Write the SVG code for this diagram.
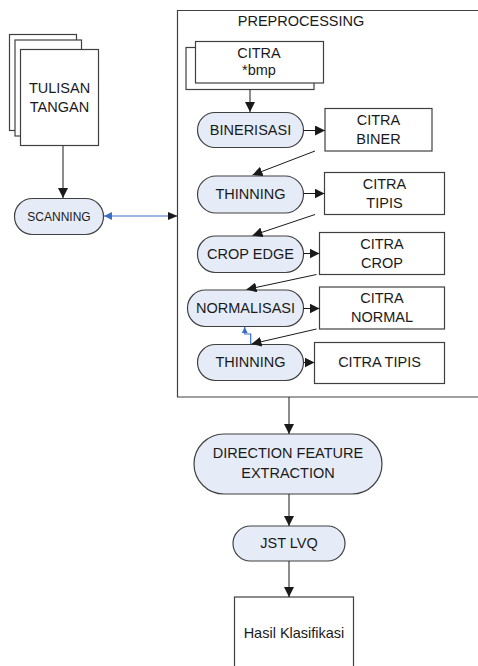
<svg xmlns="http://www.w3.org/2000/svg" width="478" height="666" viewBox="0 0 478 666">
<defs>
<style>
.bx{fill:#fff;stroke:#404040;stroke-width:1.2}
.pl{fill:#e6ecf7;stroke:#404040;stroke-width:1.2}
.t{font-family:"Liberation Sans",Arial,sans-serif;font-size:14.5px;fill:#1a1a1a;text-anchor:middle}
.ln{stroke:#1a1a1a;stroke-width:1;fill:none}
.bl{stroke:#3a6fc4;stroke-width:1.2;fill:none}
</style>
<marker id="ah" viewBox="0 0 10 10" refX="10" refY="5" markerWidth="10" markerHeight="10" markerUnits="userSpaceOnUse" orient="auto"><path d="M0,0 L10,5 L0,10 z" fill="#1a1a1a"/></marker>
<marker id="ahb" viewBox="0 0 10 10" refX="10" refY="5" markerWidth="8" markerHeight="8" markerUnits="userSpaceOnUse" orient="auto"><path d="M0,0 L10,5 L0,10 z" fill="#3a6fc4"/></marker>
<marker id="ahbs" viewBox="0 0 10 10" refX="10" refY="5" markerWidth="6" markerHeight="6" markerUnits="userSpaceOnUse" orient="auto"><path d="M0,0 L10,5 L0,10 z" fill="#3a6fc4"/></marker>
</defs>
<rect width="478" height="666" fill="#fff"/>

<g id="preprocessing">
<path class="bx" d="M600,10.5 H177.5 V397 H600" />
<text class="t" x="301" y="26">PREPROCESSING</text>
</g>

<g id="tulisan-tangan">
<rect class="bx" x="9.5" y="34.5" width="67" height="96"/>
<rect class="bx" x="15" y="40" width="66.5" height="96"/>
<rect class="bx" x="20.5" y="49.5" width="78" height="96"/>
<text class="t" x="59.5" y="93">TULISAN</text>
<text class="t" x="59.5" y="112">TANGAN</text>
</g>

<g id="scanning">
<rect class="pl" x="14.5" y="198.5" width="89" height="36" rx="18"/>
<text class="t" x="59" y="221" style="font-size:12px">SCANNING</text>
</g>

<g id="citra-bmp">
<rect class="bx" x="186" y="47.5" width="128" height="42"/>
<rect class="bx" x="195.5" y="41.5" width="128" height="41.5"/>
<text class="t" x="259" y="58">CITRA</text>
<text class="t" x="259" y="75">*bmp</text>
</g>

<g id="binerisasi">
<rect class="pl" x="197.5" y="112.5" width="106" height="35" rx="17.5"/>
<text class="t" x="250.5" y="135">BINERISASI</text>
</g>
<g id="citra-biner">
<rect class="bx" x="325" y="108.5" width="107" height="42.5"/>
<text class="t" x="378.5" y="125">CITRA</text>
<text class="t" x="378.5" y="144">BINER</text>
</g>

<g id="thinning1">
<rect class="pl" x="197.5" y="176" width="106" height="37" rx="18.5"/>
<text class="t" x="250.5" y="199">THINNING</text>
</g>
<g id="citra-tipis1">
<rect class="bx" x="324.5" y="172.5" width="120" height="42"/>
<text class="t" x="384.5" y="189">CITRA</text>
<text class="t" x="384.5" y="208">TIPIS</text>
</g>

<g id="crop-edge">
<rect class="pl" x="197.5" y="236" width="106" height="36.5" rx="18"/>
<text class="t" x="250.5" y="259">CROP EDGE</text>
</g>
<g id="citra-crop">
<rect class="bx" x="319.5" y="232.5" width="125" height="42"/>
<text class="t" x="382" y="249">CITRA</text>
<text class="t" x="382" y="268">CROP</text>
</g>

<g id="normalisasi">
<rect class="pl" x="187.5" y="290" width="116" height="36.5" rx="18"/>
<text class="t" x="245.5" y="313">NORMALISASI</text>
</g>
<g id="citra-normal">
<rect class="bx" x="319.5" y="287" width="125" height="42"/>
<text class="t" x="382" y="303">CITRA</text>
<text class="t" x="382" y="322">NORMAL</text>
</g>

<g id="thinning2">
<rect class="pl" x="197.5" y="344.5" width="106" height="36" rx="18"/>
<text class="t" x="250.5" y="367">THINNING</text>
</g>
<g id="citra-tipis2">
<rect class="bx" x="314.5" y="342.5" width="130" height="41"/>
<text class="t" x="379.5" y="367">CITRA TIPIS</text>
</g>

<g id="direction-feature">
<rect class="pl" x="194" y="434" width="188" height="60" rx="30"/>
<text class="t" x="288" y="458">DIRECTION FEATURE</text>
<text class="t" x="288" y="478">EXTRACTION</text>
</g>

<g id="jst-lvq">
<rect class="pl" x="233" y="526" width="112" height="35" rx="17.5"/>
<text class="t" x="289" y="548">JST LVQ</text>
</g>

<g id="hasil">
<rect class="bx" x="234.5" y="597" width="119" height="90"/>
<text class="t" x="294" y="638">Hasil Klasifikasi</text>
</g>

<g id="connectors">
<line class="ln" x1="63" y1="146" x2="63" y2="198" marker-end="url(#ah)"/>
<line class="bl" x1="177" y1="216" x2="104" y2="216" marker-end="url(#ahb)"/>
<path d="M168,212 L177.5,216 L168,220 z" fill="#1a1a1a"/>
<line class="ln" x1="250" y1="89.5" x2="250" y2="112" marker-end="url(#ah)"/>
<line class="ln" x1="303.5" y1="130.5" x2="325" y2="130.5" marker-end="url(#ah)"/>
<line class="ln" x1="315" y1="151" x2="252.5" y2="175" marker-end="url(#ah)"/>
<line class="ln" x1="303.5" y1="193.5" x2="324.5" y2="193.5" marker-end="url(#ah)"/>
<line class="ln" x1="315" y1="214.5" x2="252.5" y2="235.5" marker-end="url(#ah)"/>
<line class="ln" x1="303.5" y1="253.5" x2="319.5" y2="253.5" marker-end="url(#ah)"/>
<line class="ln" x1="316.5" y1="274.5" x2="246.5" y2="289.5" marker-end="url(#ah)"/>
<line class="ln" x1="303.5" y1="308.5" x2="319.5" y2="308.5" marker-end="url(#ah)"/>
<line class="ln" x1="316.5" y1="329" x2="251.5" y2="344" marker-end="url(#ah)"/>
<path class="bl" d="M250.7,344 V334 H244.7 V327" marker-end="url(#ahbs)"/>
<line class="ln" x1="303.5" y1="362.5" x2="314.5" y2="362.5" marker-end="url(#ah)"/>
<line class="ln" x1="289" y1="397" x2="289" y2="434" marker-end="url(#ah)"/>
<line class="ln" x1="289" y1="494" x2="289" y2="526" marker-end="url(#ah)"/>
<line class="ln" x1="289" y1="561" x2="289" y2="597" marker-end="url(#ah)"/>
</g>
</svg>
